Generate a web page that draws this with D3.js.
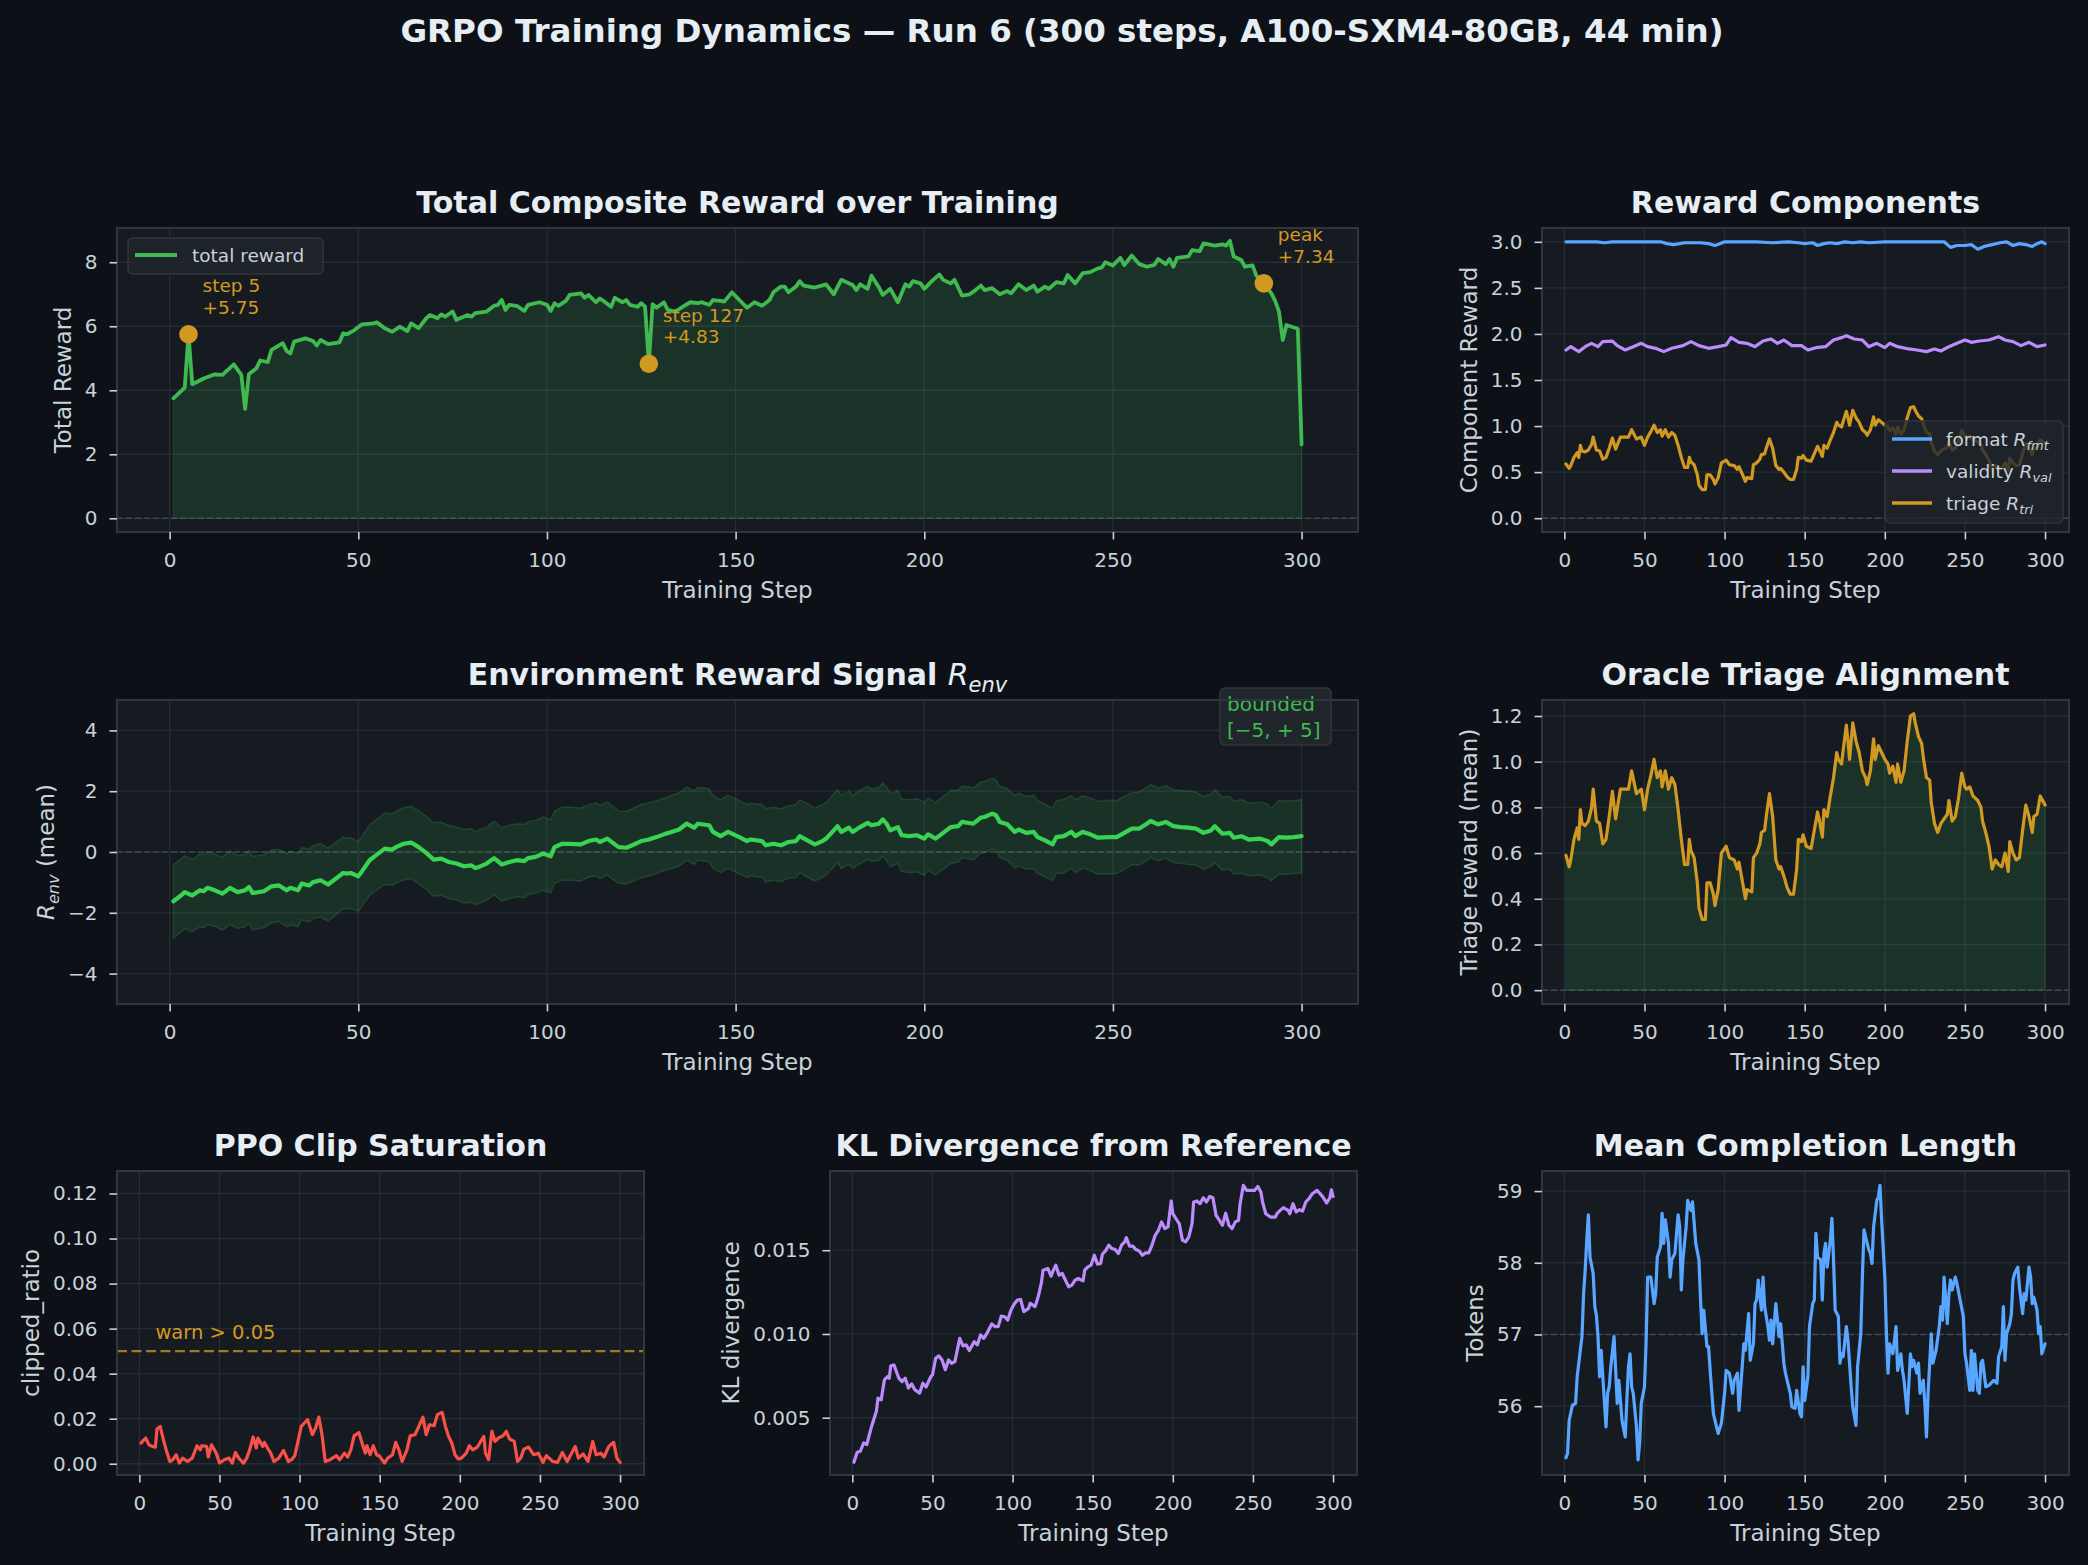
<!DOCTYPE html>
<html lang="en">
<head>
<meta charset="utf-8">
<title>GRPO Training Dynamics</title>
<script src="https://cdn.jsdelivr.net/npm/d3@7"></script>
<style>
  body { margin: 0; background: #0d1117; }
</style>
</head>
<body>
<svg id="chart" width="2088" height="1565"></svg>
<script>
// ---- data ----
const xTicks = [0, 50, 100, 150, 200, 250, 300];

const totalSteps = [1,4,5,6,9,12,14,17,19,20,21,23,24,26,27,30,31,32,33,36,38,39,40,42,45,46,47,49,51,54,55,57,59,61,63,64,66,68,69,71,72,73,75,76,79,80,81,84,86,87,88,89,90,92,94,95,98,100,101,102,103,105,106,109,110,111,113,114,115,117,118,120,121,122,124,125,126,127,128,129,131,132,134,136,138,140,141,143,144,146,147,149,151,153,155,157,159,160,162,163,164,166,167,168,171,174,176,178,181,182,183,185,186,188,189,191,193,195,196,197,199,200,202,204,205,207,208,210,212,213,215,216,218,220,222,223,225,227,229,230,232,233,235,237,238,240,242,244,246,247,248,250,252,253,255,257,259,261,262,264,265,266,267,270,271,273,274,277,279,280,281,282,284,285,287,288,290,292,293,294,295,296,298,299,300];
const totalReward = [3.75,4.08,5.75,4.19,4.37,4.50,4.48,4.81,4.48,3.42,4.50,4.69,4.93,4.88,5.26,5.47,5.23,5.15,5.52,5.62,5.54,5.40,5.57,5.44,5.50,5.78,5.75,5.88,6.06,6.09,6.12,5.94,5.83,5.99,5.85,6.09,5.94,6.25,6.35,6.25,6.37,6.30,6.46,6.20,6.35,6.30,6.41,6.46,6.64,6.67,6.82,6.51,6.67,6.64,6.48,6.67,6.75,6.67,6.48,6.72,6.64,6.79,6.98,7.03,6.89,6.98,6.75,6.87,6.79,6.61,6.89,6.75,6.82,6.67,6.61,6.72,6.61,4.83,6.69,6.58,6.75,6.51,6.46,6.61,6.75,6.72,6.75,6.67,6.82,6.79,6.77,7.06,6.82,6.58,6.75,6.64,6.82,7.06,7.24,7.24,7.06,7.24,7.41,7.27,7.21,7.31,7.00,7.45,7.29,7.13,7.31,7.17,7.58,7.21,6.98,7.17,6.75,7.31,7.24,7.41,7.34,7.17,7.41,7.62,7.45,7.34,7.45,6.96,7.00,7.08,7.27,7.13,7.19,7.00,7.10,7.03,7.31,7.13,7.27,7.08,7.24,7.17,7.38,7.34,7.60,7.34,7.66,7.69,7.81,7.83,8.00,7.90,8.14,7.91,8.21,7.94,7.86,7.92,8.10,7.94,8.10,7.86,8.14,8.18,8.38,8.35,8.59,8.52,8.56,8.52,8.67,8.18,8.07,7.86,7.90,7.58,7.34,7.03,6.79,6.46,5.57,6.04,5.96,5.92,2.31];
const rewardMarks = [
  {step: 5, value: 5.75, label: ["step 5", "+5.75"]},
  {step: 127, value: 4.83, label: ["step 127", "+4.83"]},
  {step: 290, value: 7.34, label: ["peak", "+7.34"]}
];

const fmtSteps = [1,10,20,25,30,40,50,60,64,68,72,75,80,85,90,94,97,100,110,120,130,140,146,150,155,158,162,166,170,175,180,185,190,200,210,220,230,237,241,245,250,254,258,262,267,272,276,280,284,288,292,295,298,300];
const fmtVals = [3.0,3.0,3.0,2.99,3.0,3.0,3.0,3.0,2.98,2.97,2.98,2.99,2.99,2.99,2.98,2.96,2.98,3.0,3.0,3.0,2.99,3.0,2.99,2.98,2.99,2.96,2.98,2.99,2.98,3.0,2.99,3.0,2.99,3.0,3.0,3.0,3.0,3.0,2.94,2.96,2.96,2.97,2.92,2.95,2.97,2.99,3.0,2.96,2.98,2.97,2.95,2.98,3.0,2.98];

const valSteps = [1,4,9,13,17,21,24,30,33,38,43,48,52,57,62,67,74,79,84,90,96,101,104,109,114,119,124,129,133,137,142,148,152,157,163,168,173,176,181,186,190,195,200,203,208,215,220,226,231,235,240,245,250,254,259,265,271,275,280,285,290,295,300];
const valVals = [1.826,1.862,1.808,1.862,1.898,1.862,1.916,1.923,1.873,1.826,1.862,1.898,1.862,1.844,1.808,1.844,1.873,1.916,1.873,1.844,1.862,1.880,1.960,1.909,1.898,1.862,1.923,1.945,1.898,1.934,1.873,1.873,1.826,1.851,1.862,1.934,1.960,1.981,1.945,1.934,1.862,1.898,1.851,1.898,1.862,1.837,1.826,1.808,1.837,1.815,1.862,1.898,1.934,1.909,1.923,1.934,1.970,1.934,1.916,1.873,1.909,1.862,1.880];

const triSteps = [1,3,4,6,8,9,10,11,13,15,17,18,20,22,24,26,28,30,32,35,37,40,42,45,48,50,52,54,56,58,60,61,63,65,67,69,71,73,75,77,78,79,81,83,84,86,88,89,91,93,94,96,98,101,103,106,108,109,111,113,114,117,118,120,122,123,125,126,128,130,132,134,135,137,139,141,143,145,146,148,149,151,154,156,158,159,161,162,164,166,168,170,171,173,174,176,177,178,180,182,184,186,188,189,191,193,194,196,198,200,202,203,205,207,208,210,212,214,216,218,219,221,223,224,226,228,229,231,233,235,237,239,240,242,244,246,248,250,251,253,255,258,260,261,263,265,267,269,271,273,275,277,278,280,282,284,286,288,290,292,293,295,297,300];
const triVals = [0.59,0.54,0.57,0.66,0.71,0.66,0.79,0.73,0.72,0.74,0.80,0.88,0.74,0.73,0.64,0.66,0.76,0.87,0.75,0.88,0.88,0.88,0.96,0.86,0.88,0.79,0.88,0.94,1.01,0.93,0.96,0.89,0.96,0.88,0.93,0.90,0.79,0.66,0.55,0.55,0.66,0.61,0.58,0.47,0.36,0.31,0.31,0.47,0.47,0.42,0.37,0.44,0.60,0.63,0.58,0.57,0.53,0.56,0.48,0.40,0.44,0.43,0.58,0.60,0.64,0.69,0.70,0.76,0.86,0.76,0.57,0.53,0.54,0.50,0.45,0.42,0.42,0.53,0.66,0.65,0.68,0.63,0.62,0.70,0.78,0.75,0.67,0.79,0.76,0.85,0.93,1.04,1.01,0.99,1.05,1.16,1.09,1.01,1.17,1.09,1.04,0.96,0.93,0.90,0.96,1.10,1.01,1.07,1.04,1.01,0.99,0.95,0.98,0.91,0.99,0.91,0.96,1.09,1.20,1.21,1.17,1.11,1.08,1.02,0.93,0.92,0.82,0.73,0.69,0.73,0.75,0.77,0.83,0.74,0.76,0.84,0.95,0.89,0.88,0.89,0.85,0.83,0.80,0.74,0.69,0.63,0.53,0.57,0.55,0.54,0.60,0.52,0.65,0.60,0.57,0.58,0.70,0.81,0.76,0.69,0.76,0.77,0.85,0.81];

const envSteps = [1,3,4,6,8,9,10,12,14,16,18,20,21,22,25,27,29,31,32,34,35,37,38,40,42,44,46,47,48,50,51,53,55,57,59,60,62,64,66,68,70,72,74,76,78,80,81,82,84,86,88,90,92,94,95,97,99,101,102,104,106,109,111,113,114,116,118,119,121,122,125,127,129,131,133,135,137,139,140,143,144,146,148,151,153,154,157,158,160,162,164,166,167,169,171,173,174,176,177,178,180,181,183,185,186,188,189,190,191,193,194,196,198,200,201,203,205,207,209,210,213,215,216,218,219,220,222,224,225,227,229,230,232,234,235,237,239,240,242,244,246,249,251,253,255,257,259,260,262,264,266,268,270,272,274,276,277,279,281,282,284,286,289,291,292,294,296,298,300];
const envMean = [-1.62,-1.43,-1.32,-1.43,-1.26,-1.29,-1.18,-1.26,-1.37,-1.18,-1.32,-1.26,-1.15,-1.35,-1.29,-1.13,-1.10,-1.26,-1.18,-1.26,-1.04,-1.10,-0.99,-0.93,-1.07,-0.88,-0.69,-0.71,-0.69,-0.80,-0.63,-0.27,-0.08,0.11,0.08,0.16,0.27,0.31,0.16,-0.03,-0.25,-0.22,-0.33,-0.38,-0.47,-0.44,-0.53,-0.49,-0.38,-0.20,-0.41,-0.33,-0.27,-0.30,-0.20,-0.16,-0.05,-0.14,0.16,0.27,0.27,0.25,0.36,0.41,0.33,0.44,0.25,0.16,0.14,0.19,0.36,0.41,0.49,0.58,0.66,0.74,0.93,0.80,0.93,0.88,0.66,0.52,0.66,0.49,0.36,0.41,0.36,0.22,0.27,0.22,0.33,0.36,0.52,0.38,0.25,0.36,0.44,0.71,0.85,0.66,0.80,0.66,0.82,0.96,0.88,0.93,1.07,0.93,0.71,0.82,0.55,0.52,0.55,0.44,0.58,0.44,0.63,0.82,0.85,0.99,0.93,1.13,1.15,1.26,1.21,0.99,0.91,0.66,0.74,0.63,0.66,0.49,0.38,0.25,0.49,0.52,0.66,0.52,0.66,0.58,0.47,0.49,0.49,0.63,0.77,0.77,0.93,1.02,0.91,0.99,0.85,0.82,0.80,0.77,0.63,0.71,0.85,0.60,0.63,0.47,0.52,0.41,0.44,0.36,0.25,0.49,0.47,0.49,0.52];
const envStd = [1.21,1.20,1.20,1.19,1.20,1.21,1.20,1.19,1.20,1.21,
                1.20,1.19,1.20,1.21,1.20,1.20,1.19,1.20,1.21,1.20,
                1.19,1.20,1.20,1.21,1.20,1.19,1.18,1.17,1.16,1.15,
                1.15,1.16,1.17,1.18,1.18,1.18,1.19,1.19,1.20,1.20,
                1.21,1.20,1.21,1.20,1.21,1.21,1.20,1.21,1.20,1.21,
                1.20,1.21,1.20,1.21,1.20,1.20,1.21,1.20,1.19,1.20,
                1.20,1.20,1.19,1.20,1.21,1.20,1.20,1.19,1.20,1.20,
                1.21,1.20,1.20,1.19,1.20,1.20,1.20,1.21,1.20,1.20,
                1.19,1.20,1.20,1.21,1.20,1.19,1.20,1.21,1.20,1.20,
                1.19,1.20,1.20,1.21,1.20,1.20,1.19,1.20,1.20,1.21,
                1.20,1.20,1.21,1.20,1.19,1.20,1.20,1.21,1.20,1.20,
                1.19,1.20,1.21,1.20,1.20,1.19,1.20,1.20,1.19,1.18,
                1.18,1.17,1.17,1.16,1.16,1.17,1.18,1.19,1.20,1.20,
                1.21,1.20,1.20,1.19,1.20,1.21,1.20,1.20,1.19,1.20,
                1.20,1.21,1.20,1.20,1.19,1.20,1.21,1.20,1.20,1.19,
                1.20,1.20,1.21,1.20,1.20,1.19,1.20,1.21,1.20,1.20,
                1.21,1.20,1.20,1.21,1.20,1.21,1.21,1.20,1.21];

const ppoSteps = [1,3,4,6,8,10,11,13,15,17,19,21,23,25,27,30,33,35,36,38,39,42,43,45,48,50,53,56,58,60,62,65,67,69,71,73,74,77,78,80,82,84,87,90,93,95,97,99,101,103,105,108,110,112,114,116,119,123,125,128,130,132,134,137,139,141,142,144,146,148,150,153,155,158,160,162,164,167,169,172,174,177,179,181,184,186,189,191,193,195,197,199,201,204,206,208,211,213,215,216,218,220,222,224,227,229,231,234,236,238,240,243,246,249,252,254,258,261,264,267,272,274,277,280,283,285,288,290,293,296,298,300];
const ppoClip = [0.0092,0.0107,0.0114,0.0084,0.0077,0.0074,0.0154,0.0166,0.0107,0.0055,0.0010,0.0018,0.0040,0.0003,0.0025,0.0010,0.0025,0.0062,0.0080,0.0062,0.0080,0.0077,0.0030,0.0084,0.0047,0.0003,0.0018,0.0025,0.0003,0.0050,0.0025,0.0003,0.0025,0.0065,0.0119,0.0070,0.0114,0.0077,0.0095,0.0070,0.0047,0.0010,0.0025,0.0059,0.0010,0.0018,0.0036,0.0099,0.0166,0.0181,0.0196,0.0129,0.0159,0.0207,0.0129,0.0010,0.0018,0.0036,0.0018,0.0047,0.0030,0.0062,0.0124,0.0139,0.0092,0.0047,0.0080,0.0040,0.0080,0.0040,0.0033,0.0003,0.0025,0.0040,0.0095,0.0062,0.0010,0.0062,0.0124,0.0129,0.0159,0.0207,0.0129,0.0173,0.0169,0.0218,0.0228,0.0166,0.0121,0.0092,0.0040,0.0021,0.0025,0.0047,0.0080,0.0062,0.0074,0.0099,0.0121,0.0047,0.0018,0.0144,0.0099,0.0114,0.0124,0.0144,0.0110,0.0099,0.0010,0.0025,0.0065,0.0074,0.0040,0.0047,0.0006,0.0036,0.0010,0.0006,0.0050,0.0010,0.0077,0.0025,0.0044,0.0010,0.0099,0.0040,0.0047,0.0030,0.0077,0.0095,0.0025,0.0006];
const ppoWarn = 0.05;

const klSteps = [1,3,5,7,9,12,15,16,18,20,22,23,24,26,29,31,33,35,37,39,42,44,46,49,50,52,54,56,58,60,62,64,67,69,71,73,76,78,80,82,84,87,89,91,93,95,97,99,101,103,105,107,110,111,114,116,118,119,122,124,125,127,129,131,133,135,137,139,141,144,145,147,149,151,153,155,156,158,160,162,164,166,168,170,171,173,175,177,179,181,183,185,187,189,191,193,195,197,199,200,202,204,206,208,210,212,213,215,217,219,221,223,225,227,229,231,233,235,237,239,241,242,244,246,248,251,253,255,256,258,261,264,265,267,269,272,273,275,277,279,281,283,285,287,290,292,294,296,298,299,300];
const klVals = [0.00234,0.00294,0.00300,0.00349,0.00340,0.00448,0.00538,0.00617,0.00607,0.00726,0.00746,0.00736,0.00810,0.00815,0.00736,0.00716,0.00736,0.00677,0.00702,0.00667,0.00647,0.00706,0.00683,0.00746,0.00756,0.00855,0.00869,0.00845,0.00786,0.00845,0.00825,0.00835,0.00974,0.00929,0.00935,0.00901,0.00954,0.00935,0.00994,0.00974,0.01004,0.01060,0.01044,0.01044,0.01107,0.01103,0.01083,0.01143,0.01179,0.01202,0.01206,0.01133,0.01153,0.01183,0.01163,0.01222,0.01306,0.01381,0.01391,0.01345,0.01371,0.01411,0.01351,0.01361,0.01321,0.01282,0.01292,0.01321,0.01331,0.01317,0.01381,0.01401,0.01411,0.01470,0.01417,0.01421,0.01476,0.01496,0.01530,0.01510,0.01504,0.01480,0.01530,0.01550,0.01575,0.01524,0.01524,0.01504,0.01496,0.01470,0.01484,0.01484,0.01530,0.01589,0.01619,0.01669,0.01629,0.01639,0.01794,0.01718,0.01688,0.01659,0.01560,0.01550,0.01579,0.01659,0.01788,0.01794,0.01778,0.01813,0.01788,0.01821,0.01813,0.01708,0.01679,0.01649,0.01722,0.01649,0.01629,0.01669,0.01679,0.01778,0.01887,0.01857,0.01857,0.01857,0.01881,0.01847,0.01788,0.01718,0.01698,0.01698,0.01718,0.01738,0.01754,0.01738,0.01718,0.01778,0.01728,0.01742,0.01734,0.01788,0.01808,0.01837,0.01857,0.01837,0.01813,0.01782,0.01813,0.01861,0.01821];

const lenSteps = [1,2,3,5,7,8,9,11,12,13,14,15,16,18,19,20,21,22,23,24,26,27,28,29,31,33,34,35,36,38,39,40,41,42,43,45,46,47,48,50,51,52,54,56,57,58,60,61,62,63,65,66,67,69,71,72,73,74,76,77,79,80,82,84,85,86,87,89,90,91,93,94,96,98,100,101,103,105,106,108,109,111,112,113,115,116,118,119,120,121,123,124,125,127,128,129,130,132,133,134,135,137,138,140,141,142,144,145,147,148,149,150,152,153,155,156,157,158,160,161,162,163,164,166,167,168,169,171,172,173,174,176,177,179,180,182,183,185,186,187,188,190,191,192,193,195,196,197,198,200,201,202,203,205,206,207,208,210,211,212,214,216,217,218,220,221,222,224,225,226,227,229,230,231,232,234,235,236,237,239,240,241,242,244,245,247,249,250,251,253,254,255,256,258,259,260,261,263,265,268,270,271,273,274,275,276,278,279,280,281,283,284,286,287,288,290,291,292,293,295,296,297,298,300];
const lenVals = [55.28,55.34,55.80,56.01,56.04,56.41,56.60,56.97,57.57,57.90,58.32,58.67,58.08,57.85,57.39,57.27,56.97,56.41,56.78,56.41,55.71,56.18,56.27,56.55,56.97,56.04,56.36,56.08,55.80,55.57,56.08,56.55,56.73,56.27,56.18,55.71,55.25,55.48,56.04,56.27,56.87,57.80,57.80,57.43,57.57,58.08,58.22,58.69,58.27,58.60,58.27,57.80,58.04,58.13,58.67,58.50,57.62,58.04,58.50,58.87,58.73,58.85,58.27,58.04,57.48,57.01,57.34,56.83,56.83,56.50,55.90,55.80,55.62,55.76,56.18,56.50,56.46,56.18,56.36,56.46,55.94,56.55,56.87,56.78,57.29,56.64,56.87,57.43,57.48,57.76,57.34,57.80,57.39,57.11,56.92,57.20,56.87,57.43,57.20,56.97,57.15,56.60,56.46,56.27,56.18,55.99,55.97,56.22,55.90,55.85,56.55,56.08,56.41,57.11,57.43,57.48,58.41,58.08,58.04,57.48,58.13,58.27,57.94,58.32,58.62,58.04,57.34,57.25,56.60,56.73,56.69,57.11,56.92,56.27,55.99,55.73,56.55,57.01,57.80,58.46,58.36,58.18,58.13,57.99,58.50,58.87,58.92,59.08,58.60,57.80,57.01,56.46,56.87,56.73,56.92,57.11,56.50,56.73,56.50,56.36,55.90,56.73,56.55,56.64,56.46,56.60,56.18,56.36,56.04,55.57,56.18,57.01,56.60,56.69,56.78,57.11,57.39,57.20,57.80,57.15,57.57,57.76,57.62,57.80,57.71,57.48,57.25,56.73,56.60,56.22,56.78,56.22,56.73,56.22,56.18,56.60,56.64,56.27,56.29,56.36,56.32,56.69,56.83,57.39,56.64,57.01,57.15,57.29,57.76,57.85,57.94,57.67,57.29,57.57,57.48,57.94,57.80,57.43,57.52,57.34,57.01,57.11,56.73,56.87];

// ---- style ----
const FONT = "'DejaVu Sans', sans-serif";
const C = {
  bg: "#0d1117", ax: "#161b22", grid: "#262c35", spine: "#30363d",
  text: "#c9d1d9", title: "#e6edf3", zero: "#484f58",
  green: "#3fb950", env: "#39d353", orange: "#d29922",
  blue: "#58a6ff", purple: "#bc8cff", red: "#f85149"
};

const svg = d3.select("#chart");
svg.append("rect").attr("width", 2088).attr("height", 1565).attr("fill", C.bg);

// text with italic math parts: [string, kind] kind "" | "i" | "s"
function rich(sel, parts, fs) {
  let low = false;
  parts.forEach(([s, k]) => {
    const ts = sel.append("tspan").text(s);
    if (k === "i" || k === "s") ts.attr("font-style", "italic").attr("font-weight", "normal");
    if (k === "s") {
      ts.attr("font-size", fs * 0.7);
      if (!low) { ts.attr("dy", fs * 0.22); low = true; }
    } else if (low) {
      ts.attr("dy", -fs * 0.22); low = false;
    }
  });
}

function panel(left, top, width, height, yDomain, yTicks, yFmt) {
  const x = d3.scaleLinear().domain([-13.95, 314.95]).range([left, left + width]);
  const y = d3.scaleLinear().domain(yDomain).range([top + height, top]);
  const g = svg.append("g");
  g.append("rect").attr("x", left).attr("y", top).attr("width", width).attr("height", height).attr("fill", C.ax);
  g.append("g").selectAll("line").data(xTicks).join("line")
    .attr("x1", d => x(d)).attr("x2", d => x(d)).attr("y1", top).attr("y2", top + height)
    .attr("stroke", C.grid).attr("stroke-width", 1.3);
  g.append("g").selectAll("line").data(yTicks).join("line")
    .attr("x1", left).attr("x2", left + width).attr("y1", d => y(d)).attr("y2", d => y(d))
    .attr("stroke", C.grid).attr("stroke-width", 1.3);
  const plot = g.append("g");
  g.append("rect").attr("x", left).attr("y", top).attr("width", width).attr("height", height)
    .attr("fill", "none").attr("stroke", C.spine).attr("stroke-width", 2);

  const gx = g.append("g").attr("transform", `translate(0,${top + height})`)
    .call(d3.axisBottom(x).tickValues(xTicks).tickSize(7.5).tickPadding(13.5).tickFormat(d3.format("d")));
  const gy = g.append("g").attr("transform", `translate(${left},0)`)
    .call(d3.axisLeft(y).tickValues(yTicks).tickSize(7.5).tickPadding(12).tickFormat(yFmt));
  [gx, gy].forEach(a => {
    a.select(".domain").remove();
    a.attr("font-family", FONT).attr("font-size", 20);
    a.selectAll("line").attr("stroke", C.text).attr("stroke-width", 1.6);
    a.selectAll("text").attr("fill", C.text);
  });

  g.append("text").attr("x", left + width / 2).attr("y", top + height + 66)
    .attr("text-anchor", "middle").attr("font-family", FONT).attr("font-size", 23)
    .attr("fill", C.text).text("Training Step");

  const title = g.append("text").attr("x", left + width / 2).attr("y", top - 15)
    .attr("text-anchor", "middle").attr("font-family", FONT).attr("font-size", 30)
    .attr("font-weight", "bold").attr("fill", C.title);

  const maxW = d3.max(gy.selectAll("text").nodes(), n => n.getComputedTextLength());
  const lx = left - 7.5 - 12 - maxW - 14;
  const ylab = g.append("text").attr("transform", `translate(${lx},${top + height / 2}) rotate(-90)`)
    .attr("text-anchor", "middle").attr("font-family", FONT).attr("font-size", 23).attr("fill", C.text);

  return {x, y, plot, title, ylab, left, top, width, height};
}

function pts(steps, vals) { return steps.map((s, i) => [s, vals[i]]); }

function line(p, data, color, w) {
  p.plot.append("path").datum(data)
    .attr("d", d3.line().x(d => p.x(d[0])).y(d => p.y(d[1])))
    .attr("fill", "none").attr("stroke", color).attr("stroke-width", w)
    .attr("stroke-linejoin", "round").attr("stroke-linecap", "round");
}

function fill(p, data, base, color, op) {
  p.plot.append("path").datum(data)
    .attr("d", d3.area().x(d => p.x(d[0])).y0(p.y(base)).y1(d => p.y(d[1])))
    .attr("fill", color).attr("fill-opacity", op)
    .attr("stroke", color).attr("stroke-opacity", op).attr("stroke-width", 1.2);
}

function hline(p, v, color, w, dash, op) {
  p.plot.append("line").attr("x1", p.left).attr("x2", p.left + p.width)
    .attr("y1", p.y(v)).attr("y2", p.y(v))
    .attr("stroke", color).attr("stroke-width", w).attr("stroke-dasharray", dash).attr("stroke-opacity", op);
}

// ---- suptitle ----
svg.append("text").attr("x", 1062).attr("y", 42).attr("text-anchor", "middle")
  .attr("font-family", FONT).attr("font-size", 32.5).attr("font-weight", "bold").attr("fill", C.title)
  .text("GRPO Training Dynamics — Run 6 (300 steps, A100-SXM4-80GB, 44 min)");

const rowTop = [228, 700, 1171];
const PH = 304;

// ---- 1. total composite reward ----
const p1 = panel(117, rowTop[0], 1241, PH, [-0.428, 9.07], [0, 2, 4, 6, 8], d3.format("d"));
p1.title.text("Total Composite Reward over Training");
p1.ylab.text("Total Reward");
hline(p1, 0, C.zero, 1.6, "6,3", 0.8);
fill(p1, pts(totalSteps, totalReward), 0, C.green, 0.15);
line(p1, pts(totalSteps, totalReward), C.green, 3.8);
rewardMarks.forEach(m => {
  const cx = p1.x(m.step), cy = p1.y(m.value);
  p1.plot.append("circle").attr("cx", cx).attr("cy", cy).attr("r", 9.3).attr("fill", C.orange);
  const t = p1.plot.append("text").attr("font-family", FONT).attr("font-size", 18.5).attr("fill", C.orange);
  t.append("tspan").attr("x", cx + 14).attr("y", cy - 42).text(m.label[0]);
  t.append("tspan").attr("x", cx + 14).attr("y", cy - 20.5).text(m.label[1]);
});
{
  const lg = p1.plot.append("g");
  lg.append("rect").attr("x", p1.left + 11).attr("y", p1.top + 10).attr("width", 195).attr("height", 36)
    .attr("rx", 5).attr("fill", "#21262d").attr("fill-opacity", 0.8).attr("stroke", C.spine).attr("stroke-width", 1.5);
  lg.append("line").attr("x1", p1.left + 18).attr("x2", p1.left + 60).attr("y1", p1.top + 27).attr("y2", p1.top + 27)
    .attr("stroke", C.green).attr("stroke-width", 4);
  lg.append("text").attr("x", p1.left + 75).attr("y", p1.top + 34).attr("font-family", FONT)
    .attr("font-size", 18.5).attr("fill", C.text).text("total reward");
}

// ---- 2. reward components ----
const p2 = panel(1542, rowTop[0], 527, PH, [-0.15, 3.15], [0, 0.5, 1, 1.5, 2, 2.5, 3], d3.format(".1f"));
p2.title.text("Reward Components");
p2.ylab.text("Component Reward");
hline(p2, 0, C.zero, 1.6, "6,3", 0.8);
line(p2, pts(fmtSteps, fmtVals), C.blue, 3.2);
line(p2, pts(valSteps, valVals), C.purple, 3.2);
line(p2, pts(triSteps, triVals), C.orange, 3.2);
{
  const lg = p2.plot.append("g");
  const bx = p2.left + p2.width - 184, by = p2.top + p2.height - 111;
  lg.append("rect").attr("x", bx).attr("y", by).attr("width", 178).attr("height", 102)
    .attr("rx", 5).attr("fill", "#21262d").attr("fill-opacity", 0.8).attr("stroke", C.spine).attr("stroke-width", 1.5);
  const items = [
    [C.blue, [["format ", ""], ["R", "i"], ["fmt", "s"]]],
    [C.purple, [["validity ", ""], ["R", "i"], ["val", "s"]]],
    [C.orange, [["triage ", ""], ["R", "i"], ["tri", "s"]]]
  ];
  items.forEach(([col, parts], i) => {
    const ry = by + 18 + i * 32;
    lg.append("line").attr("x1", bx + 7).attr("x2", bx + 47).attr("y1", ry).attr("y2", ry)
      .attr("stroke", col).attr("stroke-width", 3.4);
    const t = lg.append("text").attr("x", bx + 61).attr("y", ry + 6.5).attr("font-family", FONT)
      .attr("font-size", 18.5).attr("fill", C.text);
    rich(t, parts, 18.5);
  });
}

// ---- 3. environment reward ----
const p3 = panel(117, rowTop[1], 1241, PH, [-5, 5], [-4, -2, 0, 2, 4], d3.format("d"));
rich(p3.title, [["Environment Reward Signal ", ""], ["R", "i"], ["env", "s"]], 30);
rich(p3.ylab, [["R", "i"], ["env", "s"], [" (mean)", ""]], 23);
hline(p3, 0, C.zero, 1.6, "6,3", 0.8);
p3.plot.append("path").datum(envSteps.map((s, i) => [s, envMean[i] - envStd[i], envMean[i] + envStd[i]]))
  .attr("d", d3.area().x(d => p3.x(d[0])).y0(d => p3.y(d[1])).y1(d => p3.y(d[2])))
  .attr("fill", C.env).attr("fill-opacity", 0.12)
  .attr("stroke", C.env).attr("stroke-opacity", 0.18).attr("stroke-width", 1.5);
line(p3, pts(envSteps, envMean), C.env, 4.2);
{
  const bx = 1220, by = 688;
  p3.plot.append("rect").attr("x", bx).attr("y", by).attr("width", 111).attr("height", 57).attr("rx", 5)
    .attr("fill", "#21262d").attr("stroke", C.spine).attr("stroke-width", 1.5);
  const t = p3.plot.append("text").attr("font-family", FONT).attr("font-size", 20).attr("fill", C.green);
  t.append("tspan").attr("x", bx + 7).attr("y", by + 22.5).text("bounded");
  t.append("tspan").attr("x", bx + 7).attr("y", by + 48.5).text("[−5, + 5]");
}

// ---- 4. oracle triage alignment ----
const p4 = panel(1542, rowTop[1], 527, PH, [-0.0605, 1.27], [0, 0.2, 0.4, 0.6, 0.8, 1.0, 1.2], d3.format(".1f"));
p4.title.text("Oracle Triage Alignment");
p4.ylab.text("Triage reward (mean)");
hline(p4, 0, C.zero, 1.6, "6,3", 0.8);
fill(p4, pts(triSteps, triVals), 0, C.green, 0.15);
line(p4, pts(triSteps, triVals), C.orange, 3.2);

// ---- 5. PPO clip saturation ----
const p5 = panel(117, rowTop[2], 527, PH, [-0.005, 0.13], [0, 0.02, 0.04, 0.06, 0.08, 0.10, 0.12], d3.format(".2f"));
p5.title.text("PPO Clip Saturation");
p5.ylab.text("clipped_ratio");
hline(p5, ppoWarn, C.orange, 2.4, "10,4.5", 0.75);
p5.plot.append("text").attr("x", p5.x(10)).attr("y", p5.y(ppoWarn) - 12).attr("font-family", FONT)
  .attr("font-size", 19.5).attr("fill", C.orange).text("warn > 0.05");
line(p5, pts(ppoSteps, ppoClip), C.red, 3.2);

// ---- 6. KL divergence ----
const p6 = panel(830, rowTop[2], 527, PH, [0.00158, 0.01973], [0.005, 0.010, 0.015], d3.format(".3f"));
p6.title.text("KL Divergence from Reference");
p6.ylab.text("KL divergence");
line(p6, pts(klSteps, klVals), C.purple, 3.2);

// ---- 7. mean completion length ----
const p7 = panel(1542, rowTop[2], 527, PH, [55.04, 59.28], [56, 57, 58, 59], d3.format("d"));
p7.title.text("Mean Completion Length");
p7.ylab.text("Tokens");
hline(p7, 57, C.zero, 1.6, "6,3", 0.8);
line(p7, pts(lenSteps, lenVals), C.blue, 3.2);
</script>
</body>
</html>
